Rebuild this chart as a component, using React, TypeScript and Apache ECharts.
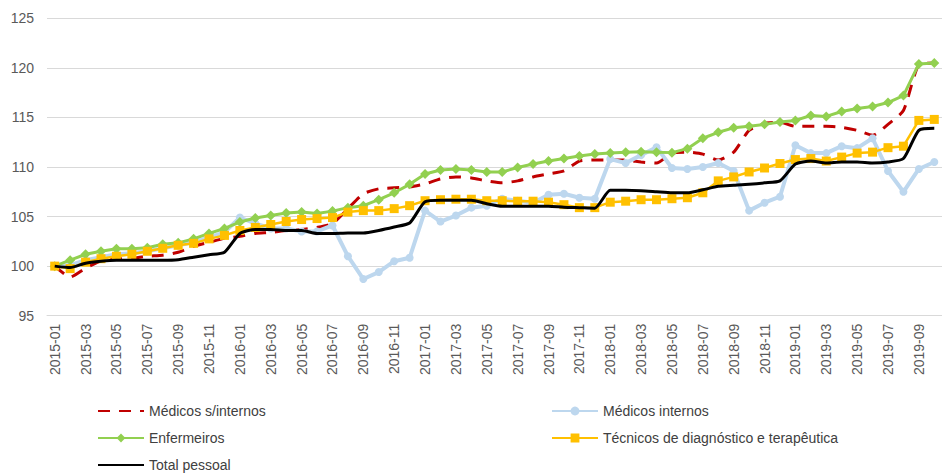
import React, { useEffect, useRef } from "react";
import * as echarts from "echarts";

const categories = [
  "2015-01","2015-02","2015-03","2015-04","2015-05","2015-06","2015-07","2015-08","2015-09","2015-10","2015-11","2015-12",
  "2016-01","2016-02","2016-03","2016-04","2016-05","2016-06","2016-07","2016-08","2016-09","2016-10","2016-11","2016-12",
  "2017-01","2017-02","2017-03","2017-04","2017-05","2017-06","2017-07","2017-08","2017-09","2017-10","2017-11","2017-12",
  "2018-01","2018-02","2018-03","2018-04","2018-05","2018-06","2018-07","2018-08","2018-09","2018-10","2018-11","2018-12",
  "2019-01","2019-02","2019-03","2019-04","2019-05","2019-06","2019-07","2019-08","2019-09","2019-10",
];

const medicosSemInternos = [
  100, 98.9, 99.8, 100.5, 100.7, 100.8, 101.0, 101.1, 101.4, 102.0,
  102.4, 102.8, 103.0, 103.3, 103.4, 103.6, 103.7, 103.9, 104.3, 105.8,
  107.3, 107.8, 107.9, 108.0, 108.3, 108.8, 109.0, 108.9, 108.6, 108.4,
  108.6, 109.0, 109.3, 109.6, 110.6, 110.7, 110.7, 110.7, 110.5, 110.4,
  111.4, 111.5, 111.3, 110.7, 111.5, 113.7, 114.4, 114.5, 114.1, 114.1,
  114.1, 114.0, 113.7, 113.2, 114.3, 115.7, 120.3, 120.5,
];

const medicosInternos = [
  100, 100.1, 100.6, 100.9, 101.2, 101.3, 101.5, 101.8, 102.1, 102.4,
  102.9, 103.4, 104.9, 104.3, 103.8, 103.8, 103.5, 103.5, 104.1, 101.0,
  98.7, 99.4, 100.5, 100.85, 105.6, 104.5, 105.1, 105.9, 106.1, 106.8,
  106.6, 106.4, 107.2, 107.3, 106.9, 106.8, 110.8, 110.4, 111.2, 112.0,
  109.9, 109.8, 110.0, 110.4, 109.6, 105.6, 106.4, 107.0, 112.2, 111.4,
  111.4, 112.1, 111.9, 112.9, 109.6, 107.5, 109.8, 110.5,
];

const enfermeiros = [
  100, 100.6, 101.2, 101.5, 101.75, 101.75, 101.85, 102.2, 102.35, 102.75,
  103.3, 103.8, 104.45, 104.85, 105.1, 105.35, 105.45, 105.3, 105.55, 105.9,
  106.1, 106.7, 107.4, 108.25, 109.3, 109.7, 109.8, 109.7, 109.5, 109.5,
  109.95, 110.3, 110.6, 110.85, 111.1, 111.3, 111.4, 111.5, 111.55, 111.5,
  111.45, 111.85, 112.9, 113.5, 113.95, 114.1, 114.3, 114.55, 114.7, 115.2,
  115.1, 115.6, 115.9, 116.1, 116.5, 117.2, 120.4, 120.5,
];

const tecnicos = [
  100, 99.75, 100.4, 100.75, 101.0, 101.2, 101.5, 101.8, 102.1, 102.3,
  102.75, 103.1, 103.6, 103.9, 104.2, 104.5, 104.7, 104.8, 104.9, 105.45,
  105.6, 105.6, 105.8, 106.1, 106.6, 106.7, 106.75, 106.75, 106.6, 106.6,
  106.55, 106.55, 106.45, 106.2, 105.9, 105.9, 106.45, 106.55, 106.7, 106.7,
  106.8, 106.9, 107.4, 108.6, 109.0, 109.5, 109.9, 110.35, 110.75, 110.85,
  110.6, 111.0, 111.4, 111.5, 111.95, 112.1, 114.7, 114.8,
];

const totalPessoal = [
  100, 99.85, 100.3, 100.5, 100.6, 100.6, 100.6, 100.6, 100.65, 100.9,
  101.15, 101.4, 103.3, 103.7, 103.7, 103.6, 103.6, 103.3, 103.3, 103.35,
  103.35, 103.6, 103.95, 104.35, 106.5, 106.65, 106.65, 106.65, 106.3, 106.05,
  106.05, 106.05, 106.05, 105.95, 105.9, 105.85, 107.65, 107.65, 107.6, 107.5,
  107.4, 107.4, 107.7, 108.05, 108.15, 108.25, 108.4, 108.6, 110.3, 110.6,
  110.4, 110.5, 110.5, 110.4, 110.5, 110.85, 113.7, 113.9,
];

const yTicks = { min: 95, max: 125, interval: 5 };

const seriesNames = [
  "Médicos s/internos",
  "Médicos internos",
  "Enfermeiros",
  "Técnicos de diagnóstico e terapêutica",
  "Total pessoal",
];

const FONT = "'Liberation Sans', Arial, sans-serif";

export default function App() {
  const ref = useRef<HTMLDivElement>(null);

  useEffect(() => {
    if (!ref.current) return;
    const chart = echarts.init(ref.current, undefined, { renderer: "svg" });
    const legendText = { fontSize: 14, color: "#404040", fontFamily: FONT, lineHeight: 14 };
    const common = {
      orient: "vertical",
      top: 404,
      height: 69,
      padding: 0,
      itemWidth: 46,
      itemHeight: 11,
      itemGap: 13,
      textStyle: legendText,
    };
    chart.setOption({
      animation: false,
      backgroundColor: "#ffffff",
      grid: { left: 47, top: 18.3, width: 902, height: 297.4, containLabel: false },
      legend: [
        {
          ...common,
          left: 97,
          data: [
            { name: seriesNames[0], itemStyle: { opacity: 0 } },
            { name: seriesNames[2] },
            { name: seriesNames[4], itemStyle: { opacity: 0 } },
          ],
        },
        {
          ...common,
          left: 551,
          data: [{ name: seriesNames[1] }, { name: seriesNames[3] }],
        },
      ],
      xAxis: {
        type: "category",
        data: categories,
        boundaryGap: true,
        axisLine: { show: true, lineStyle: { color: "#d9d9d9", width: 1 } },
        axisTick: { show: false },
        axisLabel: {
          interval: 1,
          rotate: 90,
          margin: 8,
          fontSize: 14,
          color: "#595959",
          fontFamily: FONT,
        },
        splitLine: { show: false },
      },
      yAxis: {
        type: "value",
        min: yTicks.min,
        max: yTicks.max,
        interval: yTicks.interval,
        axisLine: { show: false },
        axisTick: { show: false },
        axisLabel: { fontSize: 14, color: "#595959", margin: 13, fontFamily: FONT },
        splitLine: { show: true, lineStyle: { color: "#d9d9d9", width: 1 } },
      },
      series: [
        {
          name: seriesNames[0],
          type: "line",
          data: medicosSemInternos,
          symbol: "none",
          smooth: 0.2,
          lineStyle: { color: "#C00000", width: 3, type: [12, 9] },
          itemStyle: { color: "#C00000" },
          z: 2,
        },
        {
          name: seriesNames[1],
          type: "line",
          data: medicosInternos,
          symbol: "circle",
          symbolSize: 8,
          lineStyle: { color: "#BDD7EE", width: 4 },
          itemStyle: { color: "#BDD7EE" },
          z: 3,
        },
        {
          name: seriesNames[2],
          type: "line",
          data: enfermeiros,
          symbol: "diamond",
          symbolSize: 10,
          lineStyle: { color: "#92D050", width: 3 },
          itemStyle: { color: "#92D050" },
          z: 4,
        },
        {
          name: seriesNames[3],
          type: "line",
          data: tecnicos,
          symbol: "rect",
          symbolSize: 9,
          lineStyle: { color: "#FFC000", width: 2.5 },
          itemStyle: { color: "#FFC000" },
          z: 5,
        },
        {
          name: seriesNames[4],
          type: "line",
          data: totalPessoal,
          symbol: "none",
          smooth: 0.2,
          lineStyle: { color: "#000000", width: 3 },
          itemStyle: { color: "#000000" },
          z: 6,
        },
      ],
    });
    return () => chart.dispose();
  }, []);

  return (
    <div
      ref={ref}
      style={{ position: "absolute", left: 0, top: 0, width: 942, height: 473, overflow: "hidden" }}
    />
  );
}
